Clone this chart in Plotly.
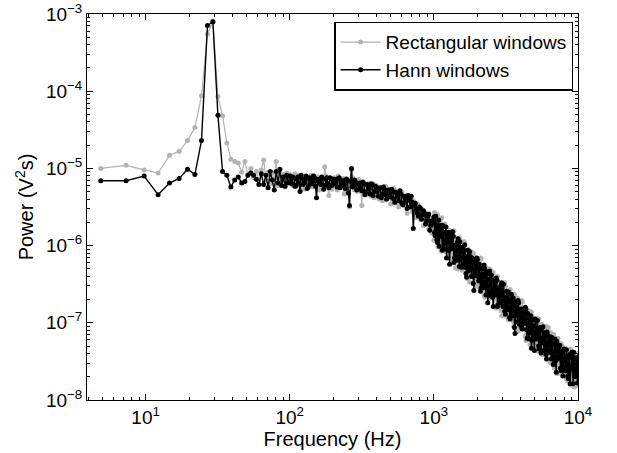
import numpy as np
import plotly.graph_objects as go

# Frequency resolution of the spectra (Hz per bin)
BIN_HZ = 20000 / 8192

# Low-frequency bins (k = 2 .. 40), read point by point (log10 of power)
K_LOW = list(range(2, 41))
RECT_LOW_LOG = [-5.00, -4.96, -5.02, -5.06, -4.83, -4.78, -4.64, -4.47, -4.06, -3.26,
                -3.09, -4.07, -4.32, -4.67, -4.88,
                -4.91, -4.93, -5.05, -4.91, -5.08, -5.00, -5.12, -5.04, -5.16, -5.02,
                -4.89, -5.15, -5.05, -5.20, -5.06, -5.14, -4.91, -5.22, -5.05, -5.16,
                -5.08, -5.24, -5.06, -5.13]
HANN_LOW_LOG = [-5.16, -5.16, -5.10, -5.34, -5.19, -5.13, -5.01, -5.08, -4.64, -3.15,
                -3.10, -4.31, -5.04, -5.09, -5.24,
                -5.15, -5.11, -5.19, -5.17, -5.09, -5.06, -5.09, -5.14, -5.21, -5.07,
                -5.21, -5.09, -5.25, -5.04, -5.15, -5.28, -5.04, -5.19, -5.01, -5.22,
                -5.11, -5.23, -5.09, -5.19]

# 100 Hz .. 1 kHz: two interleaved read-outs of the band (A, B)
RECT_MID_A = [-5.08, -5.18, -5.10, -5.24, -5.09, -5.20, -5.12, -5.27, -5.11, -5.19,
              -5.13, -5.23, -5.10, -5.20, -5.13, -5.25, -5.12, -4.98, -5.17, -5.35,
              -5.15, -5.22, -5.14, -5.28, -5.16, -5.21, -5.13, -5.30, -5.17, -5.50,
              -5.02, -5.24, -5.16, -5.30, -5.18, -5.48, -5.19, -5.34, -5.20, -5.30,
              -5.23, -5.38, -5.22, -5.34, -5.25, -5.42, -5.24, -5.36, -5.27, -5.46,
              -5.28, -5.39, -5.30, -5.50, -5.30, -5.44, -5.36, -5.58, -5.38, -5.50,
              -5.42, -5.64, -5.46, -5.62, -5.52, -5.74, -5.58, -5.70, -5.64, -5.84]
RECT_MID_B = [-5.14, -5.22, -5.07, -5.19, -5.12, -5.26, -5.10, -5.18, -5.13, -5.21,
              -5.09, -5.24, -5.15, -5.11, -5.28, -5.13, -5.19, -5.10, -5.23, -5.14,
              -5.27, -5.12, -5.18, -5.10, -5.20, -5.15, -5.33, -5.13, -5.22, -5.18,
              -5.12, -5.28, -5.20, -5.14, -5.26, -5.17, -5.30, -5.22, -5.25, -5.36,
              -5.20, -5.29, -5.24, -5.40, -5.26, -5.31, -5.23, -5.38, -5.29, -5.33,
              -5.26, -5.45, -5.33, -5.38, -5.31, -5.48, -5.35, -5.42, -5.37, -5.56,
              -5.44, -5.52, -5.50, -5.66, -5.54, -5.62, -5.60, -5.78, -5.66, -5.72]
HANN_MID_A = [-5.10, -5.20, -5.12, -5.22, -5.11, -5.30, -5.13, -5.19, -5.10, -5.24,
              -5.14, -5.18, -5.12, -5.38, -5.14, -5.21, -5.13, -5.22, -5.12, -5.25,
              -5.13, -5.20, -5.15, -5.24, -5.12, -5.22, -5.16, -5.26, -5.15, -5.48,
              -5.00, -5.22, -5.18, -5.27, -5.19, -5.29, -5.20, -5.31, -5.22, -5.33,
              -5.21, -5.30, -5.24, -5.36, -5.25, -5.33, -5.27, -5.40, -5.28, -5.37,
              -5.30, -5.44, -5.32, -5.42, -5.33, -5.47, -5.38, -5.52, -5.40, -5.36,
              -5.78, -5.45, -5.58, -5.50, -5.66, -5.55, -5.72, -5.62, -5.80, -5.68]
HANN_MID_B = [-5.17, -5.11, -5.23, -5.14, -5.19, -5.09, -5.21, -5.15, -5.26, -5.12,
              -5.20, -5.10, -5.23, -5.16, -5.19, -5.11, -5.27, -5.14, -5.20, -5.12,
              -5.22, -5.14, -5.19, -5.13, -5.25, -5.16, -5.21, -5.14, -5.32, -5.17,
              -5.24, -5.15, -5.28, -5.20, -5.25, -5.18, -5.34, -5.21, -5.27, -5.20,
              -5.35, -5.23, -5.30, -5.26, -5.38, -5.24, -5.34, -5.29, -5.35, -5.27,
              -5.40, -5.31, -5.37, -5.29, -5.45, -5.36, -5.43, -5.35, -5.50, -5.44,
              -5.48, -5.53, -5.62, -5.52, -5.60, -5.58, -5.68, -5.59, -5.74, -5.70]

# 1 kHz .. 10 kHz: two interleaved read-outs of the band (A, B)
RECT_HIGH_A = [-5.93, -5.62, -5.84, -5.60, -5.93, -5.75, -6.07, -5.75, -5.91, -5.72, -6.06, -5.88,
               -6.15, -5.87, -6.12, -5.81, -6.08, -5.89, -6.29, -6.00, -6.18, -5.90, -6.26, -6.02,
               -6.30, -5.95, -6.26, -6.07, -6.43, -6.15, -6.36, -6.08, -6.31, -6.14, -6.50, -6.22,
               -6.52, -6.19, -6.44, -6.17, -6.54, -6.36, -6.67, -6.32, -6.56, -6.30, -6.66, -6.43,
               -6.65, -6.35, -6.77, -6.47, -6.65, -6.46, -6.80, -6.51, -6.91, -6.60, -6.80, -6.53,
               -6.92, -6.63, -6.90, -6.57, -6.87, -6.66, -7.04, -6.75, -6.98, -6.68, -7.07, -6.78,
               -7.08, -6.73, -7.05, -6.83, -7.23, -6.90, -7.15, -6.85, -7.12, -6.91, -7.28, -6.99,
               -7.24, -6.94, -7.37, -7.06, -7.29, -7.02, -7.39, -7.11, -7.30, -7.05, -7.42, -7.15,
               -7.51, -7.19, -7.42, -7.15, -7.51, -7.31, -7.66, -7.27, -7.53, -7.27, -7.64, -7.37,
               -7.66, -7.35, -7.75, -7.42, -7.65, -7.35, -7.74, -7.47, -7.83, -7.44, -7.76, -7.51]
RECT_HIGH_B = [-5.57, -5.94, -5.71, -6.02, -5.68, -5.93, -5.64, -6.00, -5.84, -6.08, -5.80, -6.01,
               -5.80, -6.17, -5.89, -6.08, -5.81, -6.17, -5.99, -6.30, -5.91, -6.20, -5.98, -6.32,
               -5.95, -6.28, -6.11, -6.39, -6.05, -6.47, -6.13, -6.32, -6.10, -6.44, -6.22, -6.53,
               -6.21, -6.54, -6.16, -6.49, -6.33, -6.64, -6.28, -6.58, -6.43, -6.69, -6.31, -6.61,
               -6.37, -6.69, -6.48, -6.81, -6.40, -6.69, -6.51, -6.84, -6.51, -6.79, -6.48, -6.87,
               -6.59, -6.96, -6.58, -6.87, -6.68, -6.98, -6.63, -6.96, -6.80, -7.11, -6.74, -7.01,
               -6.71, -7.07, -6.85, -7.17, -6.83, -7.08, -6.89, -7.28, -6.86, -7.18, -7.01, -7.28,
               -6.99, -7.32, -6.95, -7.30, -7.09, -7.41, -7.04, -7.31, -7.10, -7.42, -7.06, -7.41,
               -7.13, -7.43, -7.21, -7.59, -7.30, -7.56, -7.20, -7.56, -7.33, -7.66, -7.31, -7.57,
               -7.33, -7.72, -7.40, -7.67, -7.34, -7.81, -7.46, -7.73, -7.42, -7.68, -7.40, -7.82]
HANN_HIGH_A = [-5.63, -5.87, -5.73, -5.96, -5.67, -5.87, -5.76, -6.06, -5.85, -5.97, -5.76, -6.05,
               -5.88, -6.24, -5.88, -6.01, -5.88, -6.16, -6.00, -6.15, -5.91, -6.27, -6.02, -6.17,
               -6.03, -6.28, -6.15, -6.41, -6.06, -6.28, -6.14, -6.40, -6.22, -6.58, -6.18, -6.39,
               -6.18, -6.46, -6.29, -6.55, -6.37, -6.50, -6.30, -6.64, -6.36, -6.52, -6.33, -6.65,
               -6.45, -6.79, -6.44, -6.64, -6.45, -6.77, -6.57, -6.74, -6.48, -6.79, -6.67, -6.89,
               -6.59, -6.83, -6.69, -6.95, -6.63, -6.85, -6.72, -7.14, -6.78, -6.99, -6.74, -6.98,
               -6.82, -7.08, -6.82, -7.00, -6.82, -7.20, -6.96, -7.13, -6.91, -7.23, -7.04, -7.36,
               -6.96, -7.20, -7.07, -7.34, -7.06, -7.21, -7.05, -7.36, -7.17, -7.47, -7.16, -7.37,
               -7.18, -7.47, -7.29, -7.44, -7.21, -7.64, -7.31, -7.47, -7.29, -7.62, -7.37, -7.59,
               -7.35, -7.62, -7.45, -7.72, -7.41, -7.58, -7.38, -7.79, -7.47, -7.69, -7.45, -7.67]
HANN_HIGH_B = [-5.83, -5.62, -5.92, -5.77, -6.01, -5.74, -5.88, -5.74, -6.04, -5.83, -6.16, -5.83,
               -6.06, -5.83, -6.04, -5.82, -6.22, -6.00, -6.19, -5.95, -6.16, -5.95, -6.28, -6.08,
               -6.24, -5.99, -6.36, -6.14, -6.33, -6.08, -6.27, -6.16, -6.49, -6.21, -6.38, -6.16,
               -6.40, -6.24, -6.59, -6.30, -6.55, -6.25, -6.48, -6.34, -6.74, -6.44, -6.60, -6.38,
               -6.67, -6.45, -6.62, -6.42, -6.79, -6.55, -6.74, -6.51, -6.72, -6.50, -6.85, -6.67,
               -6.81, -6.60, -6.93, -6.73, -6.91, -6.68, -7.06, -6.75, -6.90, -6.71, -7.02, -6.84,
               -7.06, -6.86, -7.01, -6.80, -7.09, -6.88, -7.21, -6.99, -7.33, -6.96, -7.16, -6.95,
               -7.21, -6.97, -7.30, -7.10, -7.39, -7.06, -7.26, -7.13, -7.41, -7.12, -7.38, -7.24,
               -7.38, -7.19, -7.54, -7.26, -7.49, -7.24, -7.44, -7.31, -7.59, -7.39, -7.69, -7.34,
               -7.58, -7.35, -7.69, -7.45, -7.79, -7.42, -7.60, -7.38, -7.70, -7.47, -7.78, -7.44]

X_TICKS = [10, 100, 1000, 10000]
X_TICK_TEXT = ["10<sup>1</sup>", "10<sup>2</sup>", "10<sup>3</sup>", "10<sup>4</sup>"]
Y_TICKS = [1e-8, 1e-7, 1e-6, 1e-5, 1e-4, 1e-3]
Y_TICK_TEXT = ["10<sup>\u22128</sup>", "10<sup>\u22127</sup>", "10<sup>\u22126</sup>",
               "10<sup>\u22125</sup>", "10<sup>\u22124</sup>", "10<sup>\u22123</sup>"]

# frequency grid: exact bins at low f, sampled positions above 100 Hz
n_mid, n_high = len(HANN_MID_A), len(HANN_HIGH_A)
f_low = BIN_HZ * np.array(K_LOW)
f_mid_a = np.geomspace(100, 1000, n_mid, endpoint=False)
f_mid_b = f_mid_a * 10 ** (0.5 / n_mid)
f_high_a = np.geomspace(1000, 10000, n_high)
f_high_b = f_high_a * 10 ** (0.5 / (n_high - 1))

freq_all = np.concatenate([f_low, f_mid_a, f_mid_b, f_high_a, f_high_b])
order = np.argsort(freq_all, kind="stable")
freq = freq_all[order]
rect = (10 ** np.array(RECT_LOW_LOG + RECT_MID_A + RECT_MID_B + RECT_HIGH_A + RECT_HIGH_B))[order]
hann = (10 ** np.array(HANN_LOW_LOG + HANN_MID_A + HANN_MID_B + HANN_HIGH_A + HANN_HIGH_B))[order]

FONT = "Liberation Sans, Arial, Helvetica, sans-serif"
GRAY = "#b3b3b3"

fig = go.Figure()
fig.add_trace(go.Scatter(x=freq, y=rect, mode="lines+markers", name="Rectangular windows",
                         line=dict(color=GRAY, width=1.2),
                         marker=dict(color=GRAY, size=5)))
fig.add_trace(go.Scatter(x=freq, y=hann, mode="lines+markers", name="Hann windows",
                         line=dict(color="black", width=1.4),
                         marker=dict(color="black", size=5)))

axis_common = dict(showline=True, linecolor="black", linewidth=1, mirror="ticks",
                   ticks="inside", ticklen=6, tickcolor="black", tickwidth=1,
                   showgrid=False, zeroline=False, automargin=False,
                   ticklabeloverflow="allow",
                   minor=dict(ticks="inside", ticklen=3, tickcolor="black", dtick="D1",
                              showgrid=False),
                   tickfont=dict(family=FONT, size=19, color="black"))

fig.update_xaxes(type="log", range=[np.log10(3.92), 4], tickvals=X_TICKS, ticktext=X_TICK_TEXT,
                 title=dict(text="Frequency (Hz)", font=dict(family=FONT, size=20, color="black"),
                            standoff=2),
                 **axis_common)
fig.update_yaxes(type="log", range=[-8, -3], tickvals=Y_TICKS, ticktext=Y_TICK_TEXT,
                 title=dict(text="Power (V<sup>2</sup>s)", font=dict(family=FONT, size=20, color="black"),
                            standoff=6),
                 **axis_common)

fig.update_layout(width=617, height=453, paper_bgcolor="white", plot_bgcolor="white",
                  margin=dict(l=86.5, r=39, t=14, b=53),
                  font=dict(family=FONT, color="black"),
                  showlegend=True,
                  legend=dict(x=0.99, y=0.98, xanchor="right", yanchor="top",
                              bgcolor="white", bordercolor="black", borderwidth=1.5,
                              font=dict(family=FONT, size=19, color="black"),
                              tracegroupgap=0, itemwidth=40))

# remove the browser's default 8 px page margin so the figure fills the window
fig.write_html("out.html", config={"displayModeBar": False},
               post_script="document.body.style.margin='0';")
